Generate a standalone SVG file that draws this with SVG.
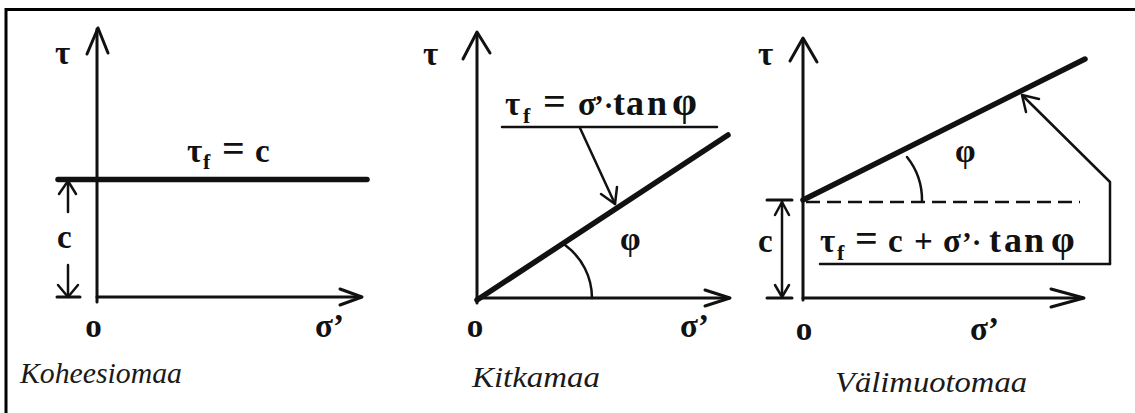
<svg xmlns="http://www.w3.org/2000/svg" width="1135" height="413" viewBox="0 0 1135 413">
<style>
.ax{stroke:#111;stroke-width:3;fill:none;stroke-linecap:round;stroke-linejoin:round}
.thick{stroke:#111;stroke-width:5.5;fill:none;stroke-linecap:round}
.thin{stroke:#111;stroke-width:2.5;fill:none;stroke-linecap:round;stroke-linejoin:round}
.dash{stroke:#111;stroke-width:2.5;stroke-dasharray:14 7;fill:none}
.m{font-family:'Liberation Serif','DejaVu Serif',serif;font-weight:bold;font-size:33px;fill:#111}
.sub{font-size:22px}
.eq{font-size:40px}
.tn{font-size:36px}
.ap{font-size:29px}
.cap{font-family:'Liberation Serif','DejaVu Serif',serif;font-style:italic;font-size:30px;fill:#1a1a1a}
</style>
<rect x="6" y="9.5" width="1200" height="500" fill="none" stroke="#000" stroke-width="3"/>

<g id="connectors">
  <line class="ax" x1="97" y1="302" x2="97" y2="29"/>
  <polyline class="ax" points="87,54 98,28 108,53"/>
  <line class="ax" x1="97" y1="297" x2="361" y2="297"/>
  <polyline class="ax" points="340,289 362,297 340,305"/>
  <line class="thin" x1="68" y1="182" x2="68" y2="212"/>
  <polyline class="thin" points="59,194 68,181 76,194"/>
  <line class="thin" x1="68" y1="265" x2="68" y2="296"/>
  <polyline class="thin" points="58,285 68,297 78,285"/>
  <line class="ax" x1="57" y1="297" x2="80" y2="297"/>
  <line class="ax" x1="477" y1="303" x2="477" y2="33"/>
  <polyline class="ax" points="463,59 477,32 490,53"/>
  <line class="ax" x1="477" y1="298" x2="729" y2="298"/>
  <polyline class="ax" points="705,290 730,298 705,306"/>
  <path class="thin" d="M 565 245 A 66 66 0 0 1 592 298"/>
  <line class="thin" x1="502" y1="127" x2="717" y2="127"/>
  <line class="thin" x1="580" y1="128" x2="615" y2="204"/>
  <polyline class="thin" points="601,194 615,204 617,187"/>
  <line class="ax" x1="803" y1="300" x2="803" y2="39"/>
  <polyline class="ax" points="790,61 803,38 817,62"/>
  <line class="ax" x1="803" y1="298" x2="1083" y2="298"/>
  <polyline class="ax" points="1051,289 1084,298 1051,307"/>
  <line class="dash" x1="806" y1="202" x2="1080" y2="202"/>
  <path class="thin" d="M 907 157 A 69 69 0 0 1 922 201"/>
  <line class="ax" x1="767" y1="200" x2="792" y2="200"/>
  <line class="ax" x1="767" y1="298" x2="792" y2="298"/>
  <line class="thin" x1="782" y1="201" x2="782" y2="297"/>
  <polyline class="thin" points="775,215 782,202 789,215"/>
  <polyline class="thin" points="775,285 782,297 789,285"/>
  <line class="thin" x1="820" y1="264" x2="1110" y2="264"/>
  <polyline class="thin" points="1110,264 1110,182 1023,96"/>
  <polyline class="thin" points="1026,112 1022,95 1039,99"/>
</g>

<g id="koheesiomaa">
  <line class="thick" x1="58" y1="179.5" x2="367" y2="179.5"/>
  <text class="m" x="55" y="64">τ</text>
  <text class="m" y="162"><tspan x="187">τ</tspan><tspan class="sub" x="203" y="169">f </tspan><tspan class="eq" x="222" y="162">= </tspan><tspan x="255" y="162">c</tspan></text>
  <text class="m" x="57" y="248">c</text>
  <text class="m" x="93.5" y="337" text-anchor="middle">o</text>
  <text class="m" x="315" y="337">σ’</text>
  <text class="cap" x="20" y="383" textLength="162" lengthAdjust="spacingAndGlyphs">Koheesiomaa</text>
</g>

<g id="kitkamaa">
  <line class="thick" x1="477" y1="300" x2="728" y2="135"/>
  <text class="m" x="423" y="65">τ</text>
  <text class="m" y="115"><tspan x="505">τ</tspan><tspan class="sub" x="523" y="123">f </tspan><tspan class="eq" x="543" y="115">= </tspan><tspan x="578" y="115">σ</tspan><tspan class="ap" x="594" y="115">’·</tspan><tspan class="tn" x="613 626 647" y="115">tan</tspan><tspan x="672" y="115" font-size="40">φ</tspan></text>
  <text class="m" x="620" y="250">φ</text>
  <text class="m" x="475" y="337" text-anchor="middle">o</text>
  <text class="m" x="680" y="337">σ’</text>
  <text class="cap" x="472" y="387" textLength="128" lengthAdjust="spacingAndGlyphs">Kitkamaa</text>
</g>

<g id="valimuotomaa">
  <line class="thick" x1="803" y1="200" x2="1085" y2="59"/>
  <text class="m" x="758" y="65">τ</text>
  <text class="m" y="252"><tspan x="820">τ</tspan><tspan class="sub" x="837" y="260">f </tspan><tspan class="eq" x="855" y="252">= </tspan><tspan x="888" y="252">c </tspan><tspan x="914" y="252">+ </tspan><tspan x="943" y="252">σ</tspan><tspan class="ap" x="962" y="252">’·</tspan><tspan class="tn" x="989 1004 1024" y="252">tan</tspan><tspan x="1051" y="252" font-size="38">φ</tspan></text>
  <text class="m" x="955" y="162">φ</text>
  <text class="m" x="758" y="252">c</text>
  <text class="m" x="804" y="340" text-anchor="middle">o</text>
  <text class="m" x="970" y="340">σ’</text>
  <text class="cap" x="835" y="392" textLength="192" lengthAdjust="spacingAndGlyphs">Välimuotomaa</text>
</g>
</svg>
